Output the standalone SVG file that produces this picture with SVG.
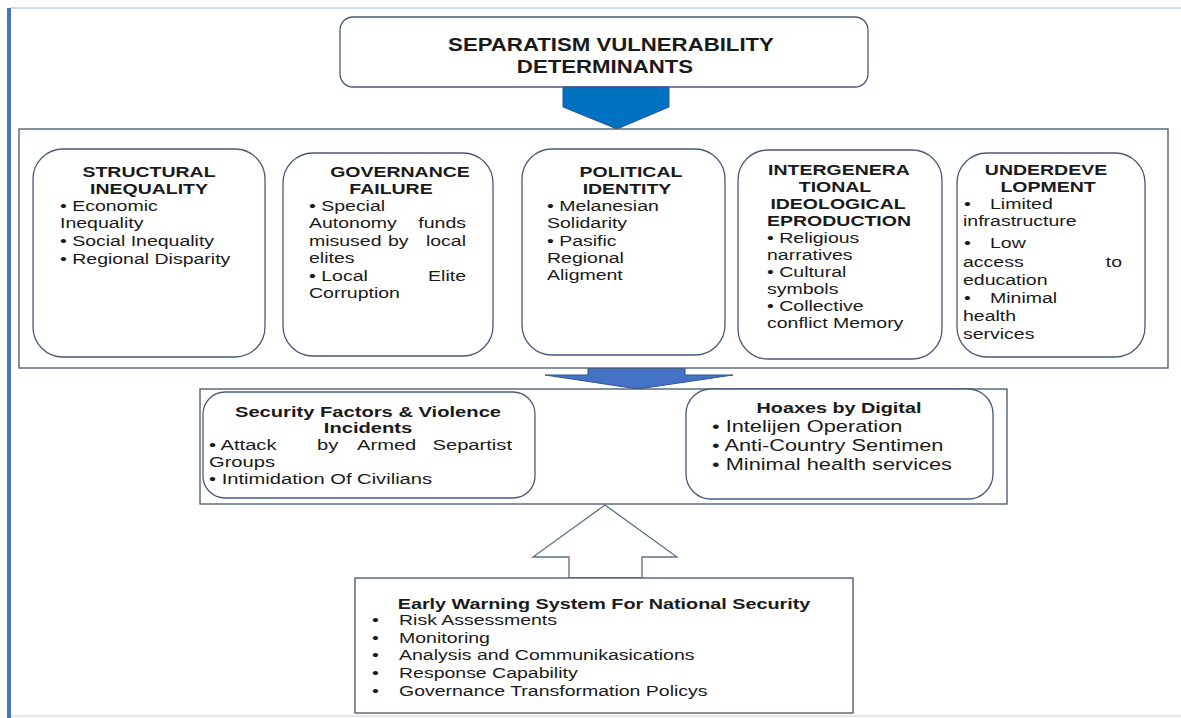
<svg xmlns="http://www.w3.org/2000/svg" width="1181" height="718" viewBox="0 0 1181 718">
<style>
.box{fill:#fff;stroke:#44546A;stroke-width:1.3}
.rbox{fill:#fff;stroke:#4A5A78;stroke-width:1.3}
.t{font-family:"Liberation Sans",Arial,sans-serif;font-size:15px;fill:#1a1a1a}
.b{font-weight:bold}
.m{text-anchor:middle}
.e{text-anchor:end}
.s155{font-size:15.5px}
.s165{font-size:16.5px}
</style>
<rect x="0" y="0" width="1181" height="718" fill="#fff"/>
<line x1="10" y1="8" x2="1181" y2="8" stroke="#9DC3E6" stroke-width="1.2"/>
<rect x="7" y="8" width="4" height="710" fill="#4472C4"/>
<line x1="11" y1="716" x2="1181" y2="716" stroke="#D0D0D0" stroke-width="1"/>

<g id="title">
<rect class="rbox" x="340" y="17" width="528" height="70" rx="13"/>
<text class="t b m" style="font-size:18.5px" transform="translate(611,51) scale(1.2,1)">SEPARATISM VULNERABILITY</text>
<text class="t b m" style="font-size:18.5px" transform="translate(605,73) scale(1.2,1)">DETERMINANTS</text>
</g>

<g id="connectors">
<polygon points="563,87 669,87 669,107 617,129 563,107" fill="#0070C0" stroke="#2F5597" stroke-width="1"/>
<polygon points="588,365 685,365 685,375 733,375 638,389 545,375 588,375" fill="#4472C4" stroke="#2F5597" stroke-width="1"/>
<polygon points="605,505 677,557 642,557 642,578 569,578 569,557 533,557" fill="#fff" stroke="#5B6F8A" stroke-width="1.3"/>
</g>

<g id="determinants">
<rect class="box" x="19" y="129" width="1149" height="239"/>
</g>

<g id="structural">
<rect class="rbox" x="33" y="149" width="232" height="208" rx="30"/>
<text class="t b m" transform="translate(149,177) scale(1.3,1)">STRUCTURAL</text>
<text class="t b m" transform="translate(149,194) scale(1.3,1)">INEQUALITY</text>
<text class="t" transform="translate(60,211) scale(1.3,1)">• Economic</text>
<text class="t" transform="translate(60,228) scale(1.3,1)">Inequality</text>
<text class="t" transform="translate(60,246) scale(1.3,1)">• Social Inequality</text>
<text class="t" transform="translate(60,264) scale(1.3,1)">• Regional Disparity</text>
</g>

<g id="governance">
<rect class="rbox" x="283" y="153" width="210" height="203" rx="30"/>
<text class="t b m" transform="translate(400,177) scale(1.3,1)">GOVERNANCE</text>
<text class="t b m" transform="translate(391,194) scale(1.3,1)">FAILURE</text>
<text class="t" transform="translate(309,211) scale(1.3,1)">• Special</text>
<text class="t" transform="translate(309,228) scale(1.3,1)">Autonomy</text>
<text class="t e" transform="translate(466,228) scale(1.3,1)">funds</text>
<text class="t" transform="translate(309,246) scale(1.3,1)">misused</text>
<text class="t" transform="translate(388,246) scale(1.3,1)">by</text>
<text class="t e" transform="translate(466,246) scale(1.3,1)">local</text>
<text class="t" transform="translate(309,263) scale(1.3,1)">elites</text>
<text class="t" transform="translate(309,281) scale(1.3,1)">• Local</text>
<text class="t e" transform="translate(466,281) scale(1.3,1)">Elite</text>
<text class="t" transform="translate(309,298) scale(1.3,1)">Corruption</text>
</g>

<g id="political">
<rect class="rbox" x="522" y="149" width="203" height="206" rx="30"/>
<text class="t b m" transform="translate(631,177) scale(1.3,1)">POLITICAL</text>
<text class="t b m" transform="translate(627,194) scale(1.3,1)">IDENTITY</text>
<text class="t" transform="translate(547,211) scale(1.3,1)">• Melanesian</text>
<text class="t" transform="translate(547,228) scale(1.3,1)">Solidarity</text>
<text class="t" transform="translate(547,246) scale(1.3,1)">• Pasific</text>
<text class="t" transform="translate(547,263) scale(1.3,1)">Regional</text>
<text class="t" transform="translate(547,280) scale(1.3,1)">Aligment</text>
</g>

<g id="intergenerational">
<rect class="rbox" x="738" y="150" width="204" height="209" rx="30"/>
<text class="t b m" transform="translate(839,175) scale(1.3,1)">INTERGENERA</text>
<text class="t b m" transform="translate(835,192) scale(1.3,1)">TIONAL</text>
<text class="t b m" transform="translate(838,209) scale(1.3,1)">IDEOLOGICAL</text>
<text class="t b m" transform="translate(839,226) scale(1.3,1)">EPRODUCTION</text>
<text class="t" transform="translate(767,243) scale(1.3,1)">• Religious</text>
<text class="t" transform="translate(767,260) scale(1.3,1)">narratives</text>
<text class="t" transform="translate(767,277) scale(1.3,1)">• Cultural</text>
<text class="t" transform="translate(767,294) scale(1.3,1)">symbols</text>
<text class="t" transform="translate(767,311) scale(1.3,1)">• Collective</text>
<text class="t" transform="translate(767,328) scale(1.3,1)">conflict Memory</text>
</g>

<g id="underdevelopment">
<rect class="rbox" x="957" y="153" width="188" height="204" rx="30"/>
<text class="t b m" transform="translate(1046,175) scale(1.3,1)">UNDERDEVE</text>
<text class="t b m" transform="translate(1048,192) scale(1.3,1)">LOPMENT</text>
<text class="t" transform="translate(964,209) scale(1.3,1)">•</text>
<text class="t" transform="translate(990,209) scale(1.3,1)">Limited</text>
<text class="t" transform="translate(963,226) scale(1.3,1)">infrastructure</text>
<text class="t" transform="translate(964,248) scale(1.3,1)">•</text>
<text class="t" transform="translate(990,248) scale(1.3,1)">Low</text>
<text class="t" transform="translate(963,267) scale(1.3,1)">access</text>
<text class="t e" transform="translate(1122,267) scale(1.3,1)">to</text>
<text class="t" transform="translate(963,285) scale(1.3,1)">education</text>
<text class="t" transform="translate(964,303) scale(1.3,1)">•</text>
<text class="t" transform="translate(990,303) scale(1.3,1)">Minimal</text>
<text class="t" transform="translate(963,321) scale(1.3,1)">health</text>
<text class="t" transform="translate(963,339) scale(1.3,1)">services</text>
</g>

<g id="threats">
<rect class="box" x="200" y="389" width="807" height="115"/>
</g>

<g id="security">
<rect class="rbox" x="203" y="392" width="332" height="106" rx="22"/>
<text class="t b m s155" transform="translate(368,417) scale(1.3,1)">Security Factors &amp; Violence</text>
<text class="t b m s155" transform="translate(368,433) scale(1.3,1)">Incidents</text>
<text class="t s155" transform="translate(209,450) scale(1.3,1)">• Attack</text>
<text class="t s155" transform="translate(317,450) scale(1.3,1)">by</text>
<text class="t s155" transform="translate(357,450) scale(1.3,1)">Armed</text>
<text class="t e s155" transform="translate(512,450) scale(1.3,1)">Separtist</text>
<text class="t s155" transform="translate(209,467) scale(1.3,1)">Groups</text>
<text class="t s155" transform="translate(209,484) scale(1.3,1)">• Intimidation Of Civilians</text>
</g>

<g id="hoaxes">
<rect class="rbox" x="686" y="389" width="307" height="110" rx="25"/>
<text class="t b m" transform="translate(839,413) scale(1.32,1)">Hoaxes by Digital</text>
<text class="t s165" transform="translate(712,432) scale(1.32,1)">• Intelijen Operation</text>
<text class="t s165" transform="translate(712,451) scale(1.32,1)">• Anti-Country Sentimen</text>
<text class="t s165" transform="translate(712,470) scale(1.32,1)">• Minimal health services</text>
</g>

<g id="ews">
<rect class="box" x="355" y="578" width="498" height="135"/>
<text class="t b m" transform="translate(604,609) scale(1.32,1)">Early Warning System For National Security</text>
<text class="t" transform="translate(372,625) scale(1.3,1)">•</text>
<text class="t" transform="translate(399,625) scale(1.3,1)">Risk Assessments</text>
<text class="t" transform="translate(372,643) scale(1.3,1)">•</text>
<text class="t" transform="translate(399,643) scale(1.3,1)">Monitoring</text>
<text class="t" transform="translate(372,660) scale(1.3,1)">•</text>
<text class="t" transform="translate(399,660) scale(1.3,1)">Analysis and Communikasications</text>
<text class="t" transform="translate(372,678) scale(1.3,1)">•</text>
<text class="t" transform="translate(399,678) scale(1.3,1)">Response Capability</text>
<text class="t" transform="translate(372,696) scale(1.3,1)">•</text>
<text class="t" transform="translate(399,696) scale(1.3,1)">Governance Transformation Policys</text>
</g>
</svg>
